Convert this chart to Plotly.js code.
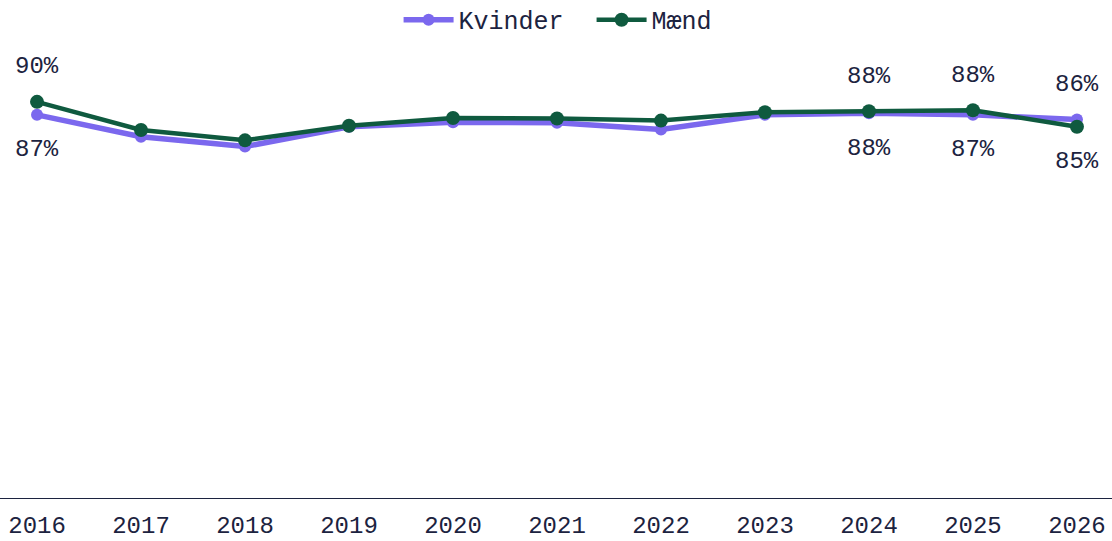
<!DOCTYPE html>
<html>
<head>
<meta charset="utf-8">
<script src="https://cdn.plot.ly/plotly-3.0.1.min.js"></script>
<style>html,body{margin:0;padding:0;background:#fff;}#chart{width:1112px;height:541px;}</style>
</head>
<body>
<div id="chart"></div>
<script>
const years = [2016, 2017, 2018, 2019, 2020, 2021, 2022, 2023, 2024, 2025, 2026];
const kvinder = [87.3, 83.1, 81.2, 85.0, 85.9, 85.8, 84.5, 87.3, 87.6, 87.3, 86.4];
const maend = [89.8, 84.4, 82.4, 85.2, 86.7, 86.6, 86.2, 87.8, 88.0, 88.2, 85.0];
const labelYears = [2016, 2024, 2025, 2026];
const seriesNames = ['Kvinder', 'Mænd'];

const colKv = '#7B68EE';
const colMa = '#0F5A3F';
const textCol = '#1C2340';
const fontFam = '"Liberation Mono", "Courier New", monospace';
const fs = 25;

const traces = [
  {x: years, y: kvinder, name: seriesNames[0], type: 'scatter', mode: 'lines+markers',
   line: {color: colKv, width: 5.5}, marker: {color: colKv, size: 12}},
  {x: years, y: maend, name: seriesNames[1], type: 'scatter', mode: 'lines+markers',
   line: {color: colMa, width: 4.5}, marker: {color: colMa, size: 14}}
];

const annotations = [];
labelYears.forEach(yr => {
  const i = years.indexOf(yr);
  const k = kvinder[i], m = maend[i];
  const hi = Math.max(k, m), lo = Math.min(k, m);
  annotations.push({x: yr, y: hi, text: Math.round(hi) + '%', showarrow: false, yshift: 35,
    font: {family: fontFam, size: fs - 1, color: textCol}});
  annotations.push({x: yr, y: lo, text: Math.round(lo) + '%', showarrow: false, yshift: -35,
    font: {family: fontFam, size: fs - 1, color: textCol}});
});

const layout = {
  width: 1112, height: 541,
  margin: {l: 0, r: 0, t: 40, b: 43, autoexpand: false},
  paper_bgcolor: '#fff', plot_bgcolor: '#fff',
  font: {family: fontFam, size: fs, color: textCol},
  showlegend: true,
  legend: {orientation: 'h', x: 0.532, xanchor: 'center', y: 1.0437, yanchor: 'middle',
    font: {family: fontFam, size: fs, color: textCol}, itemwidth: 50, entrywidth: 128,
    entrywidthmode: 'pixels', tracegroupgap: 0},
  xaxis: {range: [2015.644, 2026.337], tickmode: 'array', tickvals: years, ticktext: years.map(String),
    showgrid: false, zeroline: false, showline: true, linecolor: textCol, linewidth: 1,
    ticks: '', ticklabelstandoff: 5, tickfont: {family: fontFam, size: 24, color: textCol}, fixedrange: true},
  yaxis: {range: [13.6, 101.7], visible: false, showgrid: false, zeroline: false, fixedrange: true},
  annotations: annotations
};

Plotly.newPlot('chart', traces, layout, {displayModeBar: false, staticPlot: true});
</script>
</body>
</html>
